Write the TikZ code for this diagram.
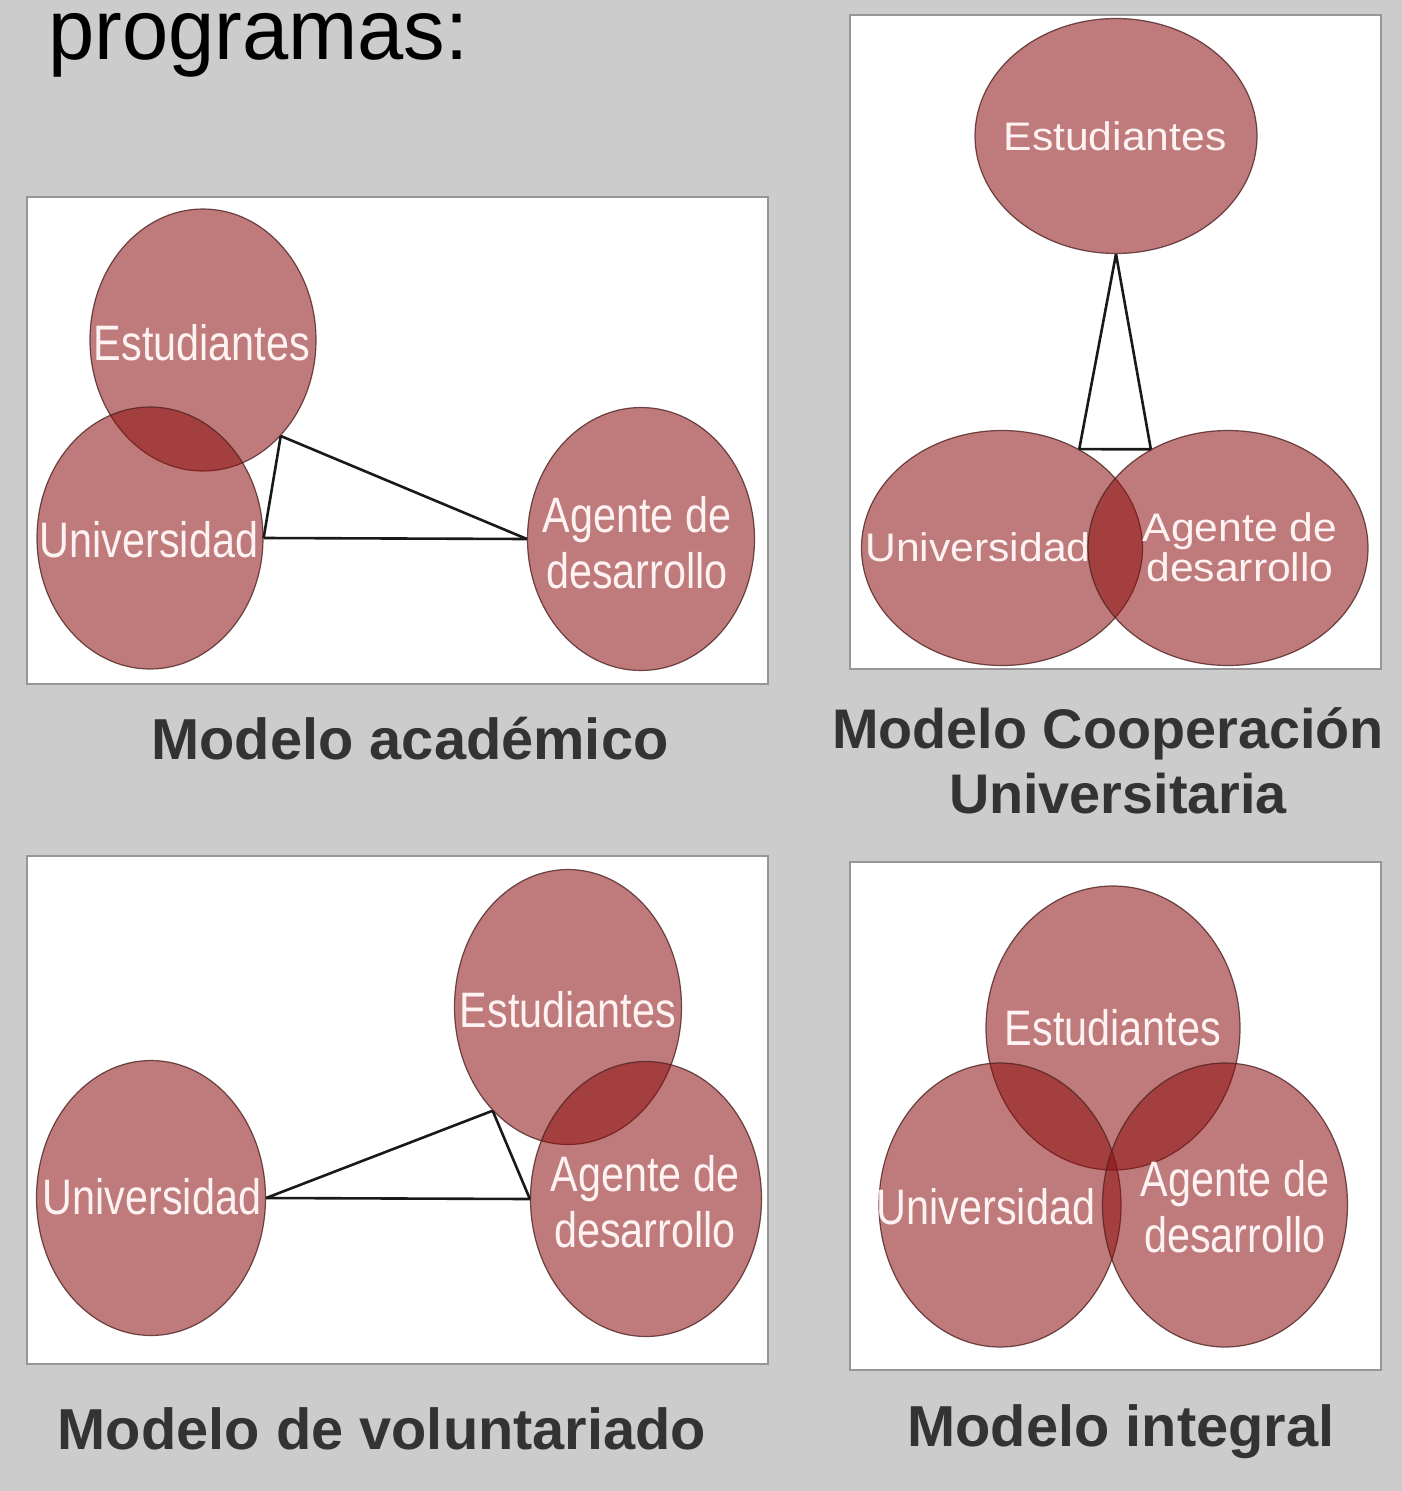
\documentclass[tikz,border=0pt]{standalone}
\usepackage{fontspec}
\setmainfont{Liberation Sans}
\newfontfamily\narrowfont[FakeStretch=0.83]{Liberation Sans}
\newfontfamily\widefont[FakeStretch=1.07]{Liberation Sans}
\newfontfamily\titlefont[FakeStretch=0.97]{Liberation Sans}
\usetikzlibrary{shapes.geometric}
\definecolor{bgGray}{RGB}{204,204,204}
\definecolor{circFill}{RGB}{140,15,15}
\definecolor{circLine}{RGB}{80,35,35}
\definecolor{circText}{RGB}{255,242,242}
\definecolor{capGray}{RGB}{51,51,51}
\definecolor{panelLine}{RGB}{150,150,150}
\begin{document}
\begin{tikzpicture}[x=1bp,y=-1bp,
  circ/.style={ellipse, inner sep=0pt, fill=circFill, fill opacity=0.55, draw=circLine, draw opacity=0.8, line width=1.2bp},
  ctxt/.style={text=circText, align=center, inner sep=0pt, font=\narrowfont\fontsize{50}{56}\selectfont},
  ctxtw/.style={text=circText, align=center, inner sep=0pt, font=\widefont\fontsize{40}{40}\selectfont},
  conn/.style={draw=black!90, line width=2.6bp},
  panel/.style={fill=white, draw=panelLine, line width=1.5bp},
  caption/.style={text=capGray, font=\bfseries\fontsize{58}{66}\selectfont, inner sep=0pt, anchor=base},
]
\useasboundingbox (0,0) rectangle (1402,1491);
\fill[bgGray] (0,0) rectangle (1402,1491);

% title
\node[anchor=base west, inner sep=0pt, font=\titlefont\fontsize{86}{92}\selectfont] (title) at (48,60) {programas:};

% panels
\draw[panel] (27,197) rectangle (768,684);
\draw[panel] (850,15) rectangle (1381,669);
\draw[panel] (27,856) rectangle (768,1364);
\draw[panel] (850,862) rectangle (1381,1370);

% ---- Panel 1: Modelo académico
\node[circ, minimum width=226bp, minimum height=262bp] (E1) at (203,340) {};
\node[circ, minimum width=226bp, minimum height=262bp] (U1) at (150,538) {};
\node[circ, minimum width=227bp, minimum height=263bp] (A1) at (641,539) {};
\draw[conn] (E1.-51) -- (U1.east);
\draw[conn] (E1.-51) -- (A1.west);
\draw[conn] (U1.east) -- (A1.west);
\node[ctxt] (E1t) at (202,343) {Estudiantes};
\node[ctxt] (U1t) at (149,540) {Universidad};
\node[ctxt] (A1t) at (637,543) {Agente de\\desarrollo};

% ---- Panel 2: Modelo Cooperación Universitaria
\node[circ, minimum width=282bp, minimum height=235bp] (E2) at (1116,136) {};
\node[circ, minimum width=281bp, minimum height=235bp] (U2) at (1002,548) {};
\node[circ, minimum width=280bp, minimum height=235bp] (A2) at (1228,548) {};
\draw[conn] (E2.south) -- (U2.52);
\draw[conn] (E2.south) -- (A2.128);
\draw[conn] (U2.52) -- (A2.128);
\node[ctxtw] (E2t) at (1115,136) {Estudiantes};
\node[ctxtw] (U2t) at (978,547) {Universidad};
\node[ctxtw] (A2t) at (1240,547) {Agente de\\desarrollo};

% ---- Panel 3: Modelo de voluntariado
\node[circ, minimum width=227bp, minimum height=275bp] (E3) at (568,1007) {};
\node[circ, minimum width=229bp, minimum height=275bp] (U3) at (151,1198) {};
\node[circ, minimum width=231bp, minimum height=275bp] (A3) at (646,1199) {};
\draw[conn] (U3.east) -- (E3.234);
\draw[conn] (E3.234) -- (A3.west);
\draw[conn] (U3.east) -- (A3.west);
\node[ctxt] (E3t) at (568,1010) {Estudiantes};
\node[ctxt] (U3t) at (152,1197) {Universidad};
\node[ctxt] (A3t) at (645,1202) {Agente de\\desarrollo};

% ---- Panel 4: Modelo integral
\node[circ, minimum width=254bp, minimum height=284bp] (E4) at (1113,1028) {};
\node[circ, minimum width=242bp, minimum height=284bp] (U4) at (1000,1205) {};
\node[circ, minimum width=245bp, minimum height=284bp] (A4) at (1225,1205) {};
\node[ctxt] (E4t) at (1113,1028) {Estudiantes};
\node[ctxt] (U4t) at (986,1207) {Universidad};
\node[ctxt] (A4t) at (1235,1207) {Agente de\\desarrollo};

% captions
\node[caption] (cap1) at (410,759) {Modelo académico};
\node[caption, font=\bfseries\fontsize{56}{62}\selectfont] (cap2a) at (1108,748) {Modelo Cooperación};
\node[caption, font=\bfseries\fontsize{56}{62}\selectfont] (cap2b) at (1118,813) {Universitaria};
\node[caption] (cap3) at (382,1449) {Modelo de voluntariado};
\node[caption] (cap4) at (1121,1446) {Modelo integral};
\end{tikzpicture}
\end{document}
